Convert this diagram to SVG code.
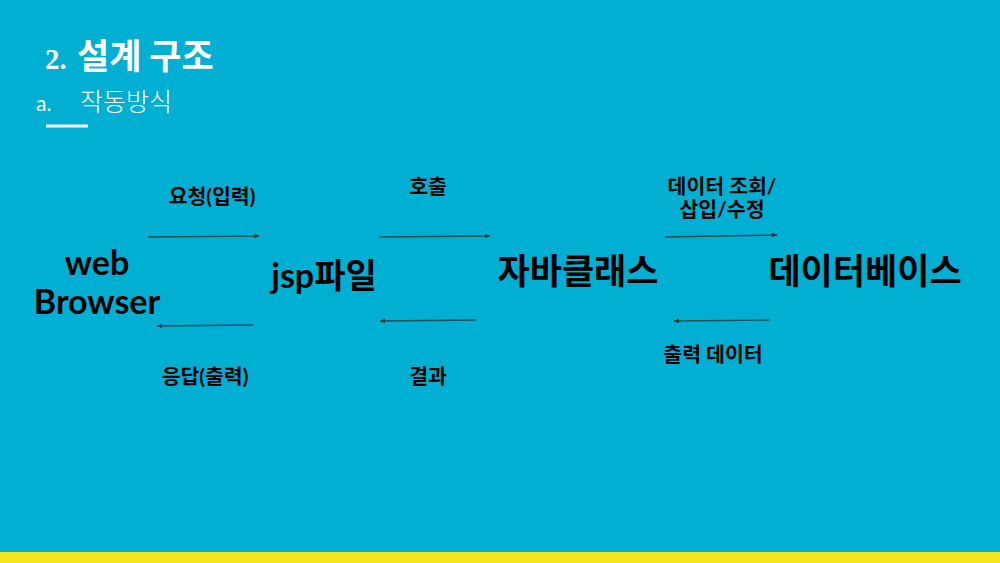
<svg xmlns="http://www.w3.org/2000/svg" width="1000" height="563" viewBox="0 0 1000 563">
<style>
.lbl{font-family:"Lato","Noto Sans CJK KR",sans-serif;font-weight:bold;font-size:20.5px;fill:#000;text-anchor:middle}
.big{font-family:"Lato","Noto Sans CJK KR",sans-serif;font-weight:bold;font-size:35px;fill:#000;text-anchor:middle}
.conn line{stroke:#1d4f5a;stroke-width:1.3;marker-end:url(#ah)}
</style>
<defs>
<marker id="ah" viewBox="0 0 10 10" refX="9" refY="5" markerWidth="6" markerHeight="6" orient="auto" markerUnits="userSpaceOnUse">
<path d="M0,1 L10,5 L0,9 z" fill="#1d3f48"/>
</marker>
</defs>
<rect width="1000" height="563" fill="#00AFD1"/>
<rect y="552" width="1000" height="11" fill="#F5E61E"/>
<g id="title">
<text x="45" y="69" font-family="Liberation Serif,Noto Sans CJK KR,serif" font-weight="bold" font-size="29" fill="#fff">2. <tspan dx="3" font-family="Noto Sans CJK KR,sans-serif" font-size="35">설계 구조</tspan></text>
<text x="36" y="111" font-family="Lato,Noto Sans CJK KR,sans-serif" font-size="21" fill="#fff">a.</text>
<text x="80" y="111" font-family="Noto Sans CJK KR,sans-serif" font-size="25" font-weight="300" fill="#fff">작동방식</text>
<rect x="46" y="124.5" width="42" height="3" fill="#fff"/>
</g>
<g id="browser"><text class="big" x="97" y="275" style="font-size:34px">web</text><text class="big" x="97" y="314" style="font-size:34px">Browser</text></g>
<g id="jsp"><text class="big" x="324" y="288" style="font-size:34px">jsp파일</text></g>
<g id="java"><text class="big" x="578" y="284">자바클래스</text></g>
<g id="db"><text class="big" x="865" y="284">데이터베이스</text></g>
<g class="conn" id="connectors">
<line x1="148" y1="237" x2="259" y2="236"/>
<line x1="379" y1="237" x2="490" y2="236"/>
<line x1="665" y1="237" x2="777" y2="235"/>
<line x1="253" y1="325" x2="157" y2="326"/>
<line x1="476" y1="320" x2="380" y2="321"/>
<line x1="769" y1="320" x2="674" y2="321"/>
</g>
<g id="labels">
<text class="lbl" x="212" y="204">요청(입력)</text>
<text class="lbl" x="428" y="194">호출</text>
<text class="lbl" x="722" y="194">데이터 조회/</text>
<text class="lbl" x="722" y="217">삽입/수정</text>
<text class="lbl" x="205" y="384">응답(출력)</text>
<text class="lbl" x="428" y="384">결과</text>
<text class="lbl" x="713" y="362">출력 데이터</text>
</g>
</svg>
